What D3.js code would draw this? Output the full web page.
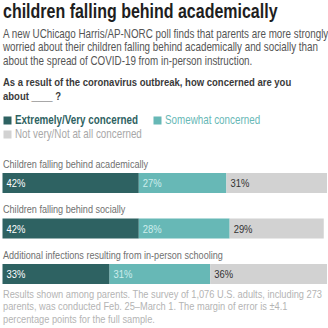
<!DOCTYPE html>
<html><head><meta charset="utf-8">
<script src="https://cdn.jsdelivr.net/npm/d3@7"></script>
<style>body{margin:0;background:#fff}svg{display:block}</style>
</head><body>
<svg id="chart" width="328" height="328"></svg>
<script>
// ---- data ----
const categories = [
  "Children falling behind academically",
  "Children falling behind socially",
  "Additional infections resulting from in-person schooling"
];
const seriesNames = ["Extremely/Very concerned", "Somewhat concerned", "Not very/Not at all concerned"];
const extremely = [42, 42, 33];
const somewhat  = [27, 28, 31];
const notVery   = [31, 29, 36];
const titleLines = ["children falling behind academically"];
const subtitleLines = [
  "A new UChicago Harris/AP-NORC poll finds that parents are more strongly",
  "worried about their children falling behind academically and socially than",
  "about the spread of COVID-19 from in-person instruction."
];
const questionLines = ["As a result of the coronavirus outbreak, how concerned are you", "about ____ ?"];
const footerLines = [
  "Results shown among parents. The survey of 1,076 U.S. adults, including 273",
  "parents, was conducted Feb. 25\u2013March 1. The margin of error is \u00b14.1",
  "percentage points for the full sample."
];

// ---- styles ----
const colors = ["#2e6262", "#67b8b6", "#d2d2d2"];
const legendText = ["#2e6262", "#67b8b6", "#a8a8a8"];
const valueText = ["#ffffff", "#cdeeed", "#333333"];
const FONT = "'Liberation Sans', Arial, sans-serif";
const NARROW = 0.82;

const svg = d3.select("#chart");

// condensed text: horizontal scale applied through a transform
function txt(g, x, y, s, size, weight, fill) {
  return g.append("text")
    .attr("transform", `translate(${x},${y}) scale(${NARROW},1)`)
    .attr("font-family", FONT).attr("font-size", size)
    .attr("font-weight", weight).attr("fill", fill).text(s);
}

// title
titleLines.forEach((s, i) => txt(svg, 3, 18 + i * 22, s, 19.5, "bold", "#1e1e1e"));
// subtitle
subtitleLines.forEach((s, i) => txt(svg, 3, 37.5 + i * 13.5, s, 12, "normal", "#555"));
// question
questionLines.forEach((s, i) => txt(svg, 3, 86 + i * 14, s, 11.6, "bold", "#3a3a3a"));

// legend
const legendPos = [[3, 124], [153, 124], [3, 138]];
seriesNames.forEach((n, i) => {
  const [lx, ly] = legendPos[i];
  svg.append("rect").attr("x", lx + 0.5).attr("y", ly - 7.5).attr("width", 8).attr("height", 8).attr("fill", colors[i]);
  txt(svg, lx + 12, ly, n, 12, i === 0 ? "bold" : "normal", legendText[i]);
});

// bars
const data = categories.map((c, i) => ({cat: c, a: extremely[i], b: somewhat[i], c: notVery[i]}));
const keys = ["a", "b", "c"];
const stacked = d3.stack().keys(keys)(data);
const x = d3.scaleLinear().domain([0, 100]).range([2.5, 327]);
const y = d3.scaleBand().domain(categories).range([173, 284]).paddingInner(25.5 / 45.5);

// category labels
categories.forEach(c => txt(svg, 3, y(c) - 5.5, c, 11.1, "normal", "#707070"));

stacked.forEach((layer, k) => {
  const g = svg.append("g");
  g.selectAll("rect").data(layer).join("rect")
    .attr("x", d => x(d[0])).attr("y", d => y(d.data.cat))
    .attr("width", d => x(d[1]) - x(d[0])).attr("height", y.bandwidth())
    .attr("fill", colors[k]);
  layer.forEach(d => {
    txt(g, x(d[0]) + 4, y(d.data.cat) + 14, (d[1] - d[0]) + "%", 11.5, "normal", valueText[k]);
  });
});

// footer
footerLines.forEach((s, i) => txt(svg, 3, 298 + i * 12.3, s, 11.3, "normal", "#b4b4b4"));
</script>
</body></html>
